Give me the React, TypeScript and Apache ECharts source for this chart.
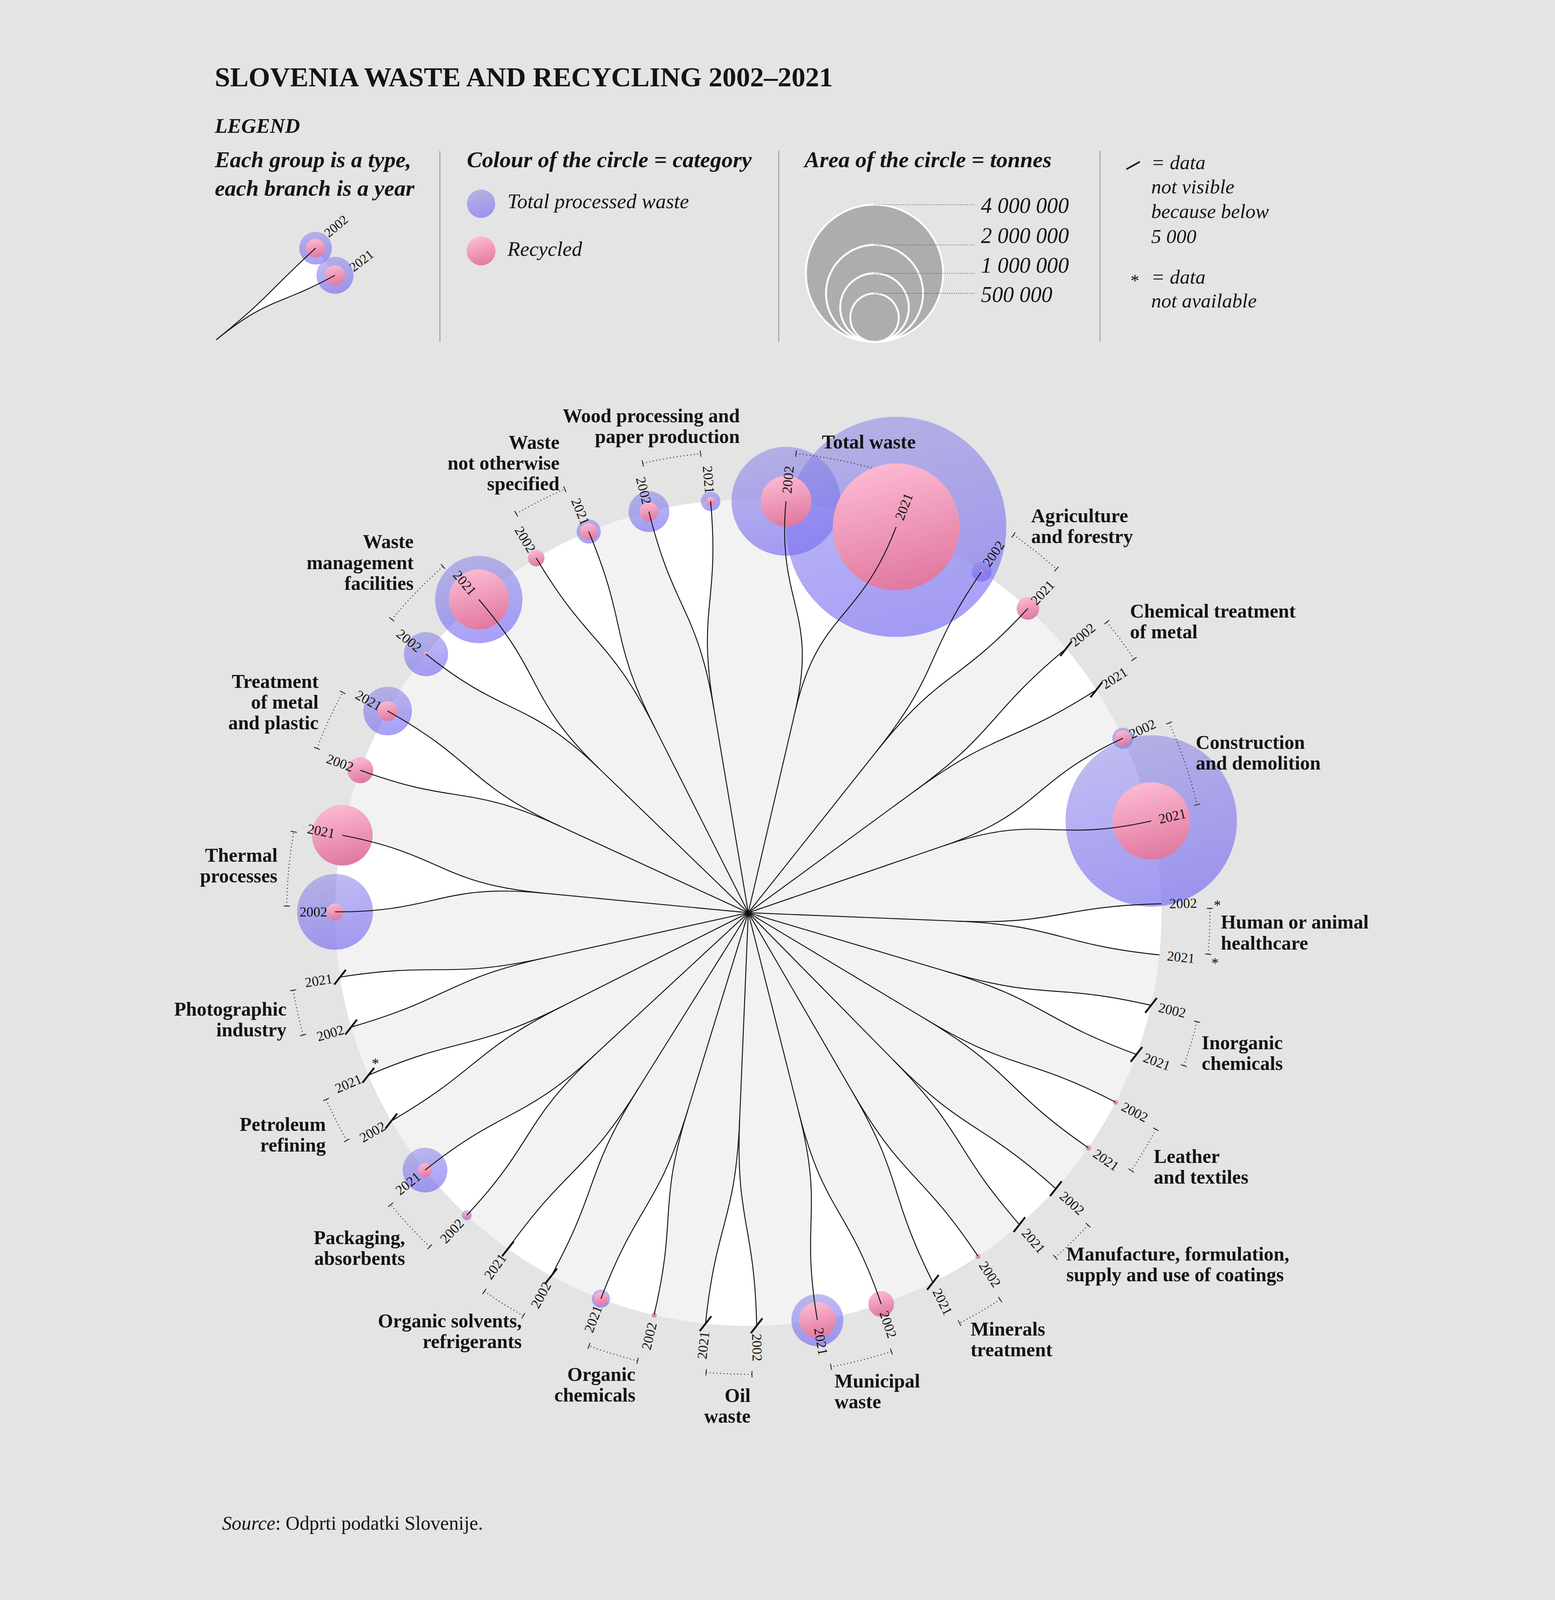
import React, { useEffect, useRef } from 'react';
import * as echarts from 'echarts';

// ---------------- DATA ----------------
const GROUP_LABELS: string[][] = [
  ['Total waste'],
  ['Agriculture', 'and forestry'],
  ['Chemical treatment', 'of metal'],
  ['Construction', 'and demolition'],
  ['Human or animal', 'healthcare'],
  ['Inorganic', 'chemicals'],
  ['Leather', 'and textiles'],
  ['Manufacture, formulation,', 'supply and use of coatings'],
  ['Minerals', 'treatment'],
  ['Municipal', 'waste'],
  ['Oil', 'waste'],
  ['Organic', 'chemicals'],
  ['Organic solvents,', 'refrigerants'],
  ['Packaging,', 'absorbents'],
  ['Petroleum', 'refining'],
  ['Photographic', 'industry'],
  ['Thermal', 'processes'],
  ['Treatment', 'of metal', 'and plastic'],
  ['Waste', 'management', 'facilities'],
  ['Waste', 'not otherwise', 'specified'],
  ['Wood processing and', 'paper production'],
];
const YEARS = ['2002', '2021'];
// tonnes; null = data not available; values below 5 000 are not drawn
const TOTAL_2002 = [2520000, 84000, 3000, 95000, null, 3000, 5200, 3000, 5500, 140000, 3000, 6000, 3000, 21000, 3000, 3000, 1220000, 142000, 414000, 58000, 354000];
const TOTAL_2021 = [10300000, 108000, 3000, 6240000, null, 3000, 6500, 3000, 3000, 574000, 3000, 70000, 3000, 425000, 3000, 3000, 780000, 503000, 1620000, 123000, 80500];
const RECYCLED_2002 = [550000, 2000, 1000, 51000, null, 1000, 4800, 1000, 5000, 138000, 1000, 5500, 1000, 11000, 1000, 1000, 60000, 139000, 4500, 56000, 77000];
const RECYCLED_2021 = [3420000, 103000, 1000, 1270000, null, 1000, 4500, 1000, 1000, 276000, 1000, 40000, 1000, 41000, null, 1000, 770000, 82000, 766000, 61000, 16400];
const SIZE_LEGEND_VALUES = [4000000, 2000000, 1000000, 500000];
const SIZE_LEGEND_LABELS = ['4 000 000', '2 000 000', '1 000 000', '500 000'];
const THRESHOLD = 5000;

// ---------------- LAYOUT ----------------
const W = 3980;
const H = 5096;
const CX = 1897;
const CY = 2907;
const R = 1316;
const REF_VALUE = 4000000;
const REF_RADIUS = 218.5;
const rScale = (v: number) => REF_RADIUS * Math.sqrt(Math.max(v, 0) / REF_VALUE);
const NODE_R = 0.5;
const MID_R = 0.75;
const LABEL_R = (R + 25) / R;
const BRACKET_R = (R + 154) / R;
const STAR_R = (R + 178) / R;
const GLABEL_R = 1506 / R;
const FONT = 'Liberation Serif';
const INK = '#141414';
const BG = '#e4e4e4';

type Leaf = { g: number; y: number; total: number | null; rec: number | null };
const LEAVES: Leaf[] = [];
GROUP_LABELS.forEach((_, g) => {
  LEAVES.push({ g, y: 0, total: TOTAL_2002[g], rec: RECYCLED_2002[g] });
  LEAVES.push({ g, y: 1, total: TOTAL_2021[g], rec: RECYCLED_2021[g] });
});
const visible = (l: Leaf) => l.total != null && l.total >= THRESHOLD;
const N = LEAVES.length;
const leafRadius = LEAVES.map((l) => (visible(l) ? rScale(Math.max(l.total as number, l.rec ?? 0)) : 0));
const BASE_GAP = 431;
const gaps = LEAVES.map((_, i) => BASE_GAP + leafRadius[i] + leafRadius[(i + 1) % N]);
const gapSum = gaps.reduce((s, v) => s + v, 0);
const ANG: number[] = [];
{
  let a = ((gaps[N - 1] / gapSum) * 360) / 2;
  for (let i = 0; i < N; i++) {
    ANG.push(a);
    a += (gaps[i] / gapSum) * 360;
  }
}
const GA = GROUP_LABELS.map((_, g) => (ANG[2 * g] + ANG[2 * g + 1]) / 2);

function cubic(p: number[][], t: number) {
  const u = 1 - t;
  const a = u * u * u, b = 3 * u * u * t, c = 3 * u * t * t, d = t * t * t;
  return [
    a * p[0][0] + b * p[1][0] + c * p[2][0] + d * p[3][0],
    a * p[0][1] + b * p[1][1] + c * p[2][1] + d * p[3][1],
  ];
}

const purpleFill = () =>
  new echarts.graphic.LinearGradient(0.35, 0, 0.6, 1, [
    { offset: 0, color: 'rgba(141,137,228,0.56)' },
    { offset: 1, color: 'rgba(98,84,246,0.56)' },
  ]);
const pinkFill = () =>
  new echarts.graphic.LinearGradient(0.35, 0, 0.6, 1, [
    { offset: 0, color: 'rgba(255,186,210,0.97)' },
    { offset: 1, color: 'rgba(226,118,156,0.97)' },
  ]);

let measureCtx: CanvasRenderingContext2D | null = null;
function textWidth(s: string, font: string) {
  if (!measureCtx) measureCtx = document.createElement('canvas').getContext('2d');
  if (!measureCtx) return s.length * 30;
  measureCtx.font = font;
  return measureCtx.measureText(s).width;
}

function txt(x: number, y: number, text: string, size: number, opts: any = {}) {
  return {
    type: 'text',
    x,
    y,
    rotation: opts.rotation || 0,
    silent: true,
    style: {
      text,
      fill: opts.fill || INK,
      fontSize: size,
      fontFamily: FONT,
      fontWeight: opts.weight || 'normal',
      fontStyle: opts.style || 'normal',
      align: opts.align || 'left',
      textAlign: opts.align || 'left',
      verticalAlign: opts.valign || 'middle',
      textVerticalAlign: opts.valign || 'middle',
      lineHeight: opts.lineHeight,
      rich: opts.rich,
    },
  };
}

function buildLegend() {
  const els: any[] = [];
  els.push(txt(198, 245, 'SLOVENIA WASTE AND RECYCLING 2002–2021', 88, { weight: 'bold' }));
  els.push(txt(198, 400, 'LEGEND', 66, { weight: 'bold', style: 'italic' }));
  [915, 1994, 3017].forEach((x) =>
    els.push({ type: 'line', silent: true, shape: { x1: x, y1: 481, x2: x, y2: 1089 }, style: { stroke: '#7a7a7a', lineWidth: 2 } })
  );
  els.push(txt(198, 508, 'Each group is a type,', 72, { weight: 'bold', style: 'italic' }));
  els.push(txt(198, 599, 'each branch is a year', 72, { weight: 'bold', style: 'italic' }));
  const O = [203, 1082];
  const dir = (a: number) => [Math.sin((a * Math.PI) / 180), -Math.cos((a * Math.PI) / 180)];
  const at = (r: number, a: number) => [O[0] + r * dir(a)[0], O[1] + r * dir(a)[1]];
  const la = [47.3, 61.5];
  const lag = 51;
  const curves = la.map((a) => [O, at(215, lag), at(215, a), at(430, a)]);
  const poly: number[][] = [];
  for (let k = 0; k <= 40; k++) poly.push(cubic(curves[0], k / 40));
  for (let k = 40; k >= 0; k--) poly.push(cubic(curves[1], k / 40));
  els.push({ type: 'polygon', silent: true, shape: { points: poly }, style: { fill: '#ffffff' } });
  const legendSizes = [
    [52, 30],
    [59, 32],
  ];
  la.forEach((a, i) => {
    const p = at(430, a);
    els.push({ type: 'circle', silent: true, shape: { cx: p[0], cy: p[1], r: legendSizes[i][0] }, style: { fill: purpleFill() } });
    els.push({ type: 'circle', silent: true, shape: { cx: p[0], cy: p[1], r: legendSizes[i][1] }, style: { fill: pinkFill() } });
  });
  curves.forEach((c) =>
    els.push({
      type: 'bezierCurve',
      silent: true,
      shape: { x1: c[0][0], y1: c[0][1], cpx1: c[1][0], cpy1: c[1][1], cpx2: c[2][0], cpy2: c[2][1], x2: c[3][0], y2: c[3][1] },
      style: { stroke: INK, lineWidth: 3, fill: null },
    })
  );
  els.push(txt(552, 747, '2002', 42, { rotation: (40 * Math.PI) / 180 }));
  els.push(txt(632, 856, '2021', 42, { rotation: (38 * Math.PI) / 180 }));

  els.push(txt(1001, 508, 'Colour of the circle = category', 72, { weight: 'bold', style: 'italic' }));
  els.push({ type: 'circle', silent: true, shape: { cx: 1046, cy: 649, r: 45 }, style: { fill: purpleFill() } });
  els.push({ type: 'circle', silent: true, shape: { cx: 1046, cy: 799, r: 46 }, style: { fill: pinkFill() } });
  els.push(txt(1130, 641, 'Total processed waste', 66, { style: 'italic' }));
  els.push(txt(1130, 792, 'Recycled', 66, { style: 'italic' }));

  els.push(txt(2076, 508, 'Area of the circle = tonnes', 72, { weight: 'bold', style: 'italic' }));
  const scx = 2299, sbot = 1089;
  SIZE_LEGEND_VALUES.forEach((v) => {
    const r = rScale(v);
    els.push({ type: 'circle', silent: true, shape: { cx: scx, cy: sbot - r, r }, style: { fill: '#adadad', stroke: '#ffffff', lineWidth: 6 } });
  });
  const labelY = [654, 750, 845, 938];
  SIZE_LEGEND_VALUES.forEach((v, i) => {
    const top = sbot - 2 * rScale(v);
    els.push({
      type: 'line',
      silent: true,
      shape: { x1: scx, y1: top, x2: 2621, y2: top },
      style: { stroke: '#555', lineWidth: 2, lineDash: [3, 4] },
    });
    els.push(txt(2638, labelY[i], SIZE_LEGEND_LABELS[i], 70, { style: 'italic' }));
  });

  els.push({ type: 'line', silent: true, shape: { x1: 3101, y1: 539, x2: 3144, y2: 515 }, style: { stroke: INK, lineWidth: 5 } });
  ['= data', 'not visible', 'because below', '5 000'].forEach((s, i) => els.push(txt(3180, [517, 594, 673, 752][i], s, 64, { style: 'italic' })));
  els.push(txt(3128, 893, '*', 56, { align: 'center' }));
  els.push(txt(3180, 881, '= data', 64, { style: 'italic' }));
  els.push(txt(3180, 957, 'not available', 64, { style: 'italic' }));

  els.push(
    txt(221, 4852, '{i|Source}: Odprti podatki Slovenije.', 62, {
      rich: { i: { fontStyle: 'italic', fontSize: 62, fontFamily: FONT, fill: INK } },
    })
  );
  return els;
}

function buildOption() {
  const leafData = LEAVES.map((_, i) => [1, ANG[i], i]);
  const groupData = GROUP_LABELS.map((_, g) => [NODE_R, GA[g], g]);
  const base = { type: 'custom', coordinateSystem: 'polar', polarIndex: 0, silent: true, encode: { radius: 0, angle: 1 } };

  const linkPts = (api: any, g: number, al: number) => [
    api.coord([NODE_R, GA[g]]),
    api.coord([MID_R, GA[g]]),
    api.coord([MID_R, al]),
    api.coord([1, al]),
  ];

  const series: any[] = [
    {
      ...base,
      name: 'disc',
      z: 1,
      data: [[0, 0]],
      renderItem: (_p: any, api: any) => {
        const o = api.coord([0, 0]);
        const e = api.coord([1, 0]);
        return { type: 'circle', shape: { cx: o[0], cy: o[1], r: Math.hypot(e[0] - o[0], e[1] - o[1]) }, style: { fill: '#f2f2f2' } };
      },
    },
    {
      ...base,
      name: 'wedges',
      z: 2,
      data: groupData,
      renderItem: (params: any, api: any) => {
        const g = params.dataIndex;
        const a1 = ANG[2 * g], a2 = ANG[2 * g + 1];
        const b1 = linkPts(api, g, a1), b2 = linkPts(api, g, a2);
        const pts: number[][] = [];
        for (let k = 0; k <= 48; k++) pts.push(cubic(b1, k / 48));
        for (let k = 1; k < 24; k++) pts.push(api.coord([1, a1 + ((a2 - a1) * k) / 24]));
        for (let k = 48; k >= 0; k--) pts.push(cubic(b2, k / 48));
        return { type: 'polygon', shape: { points: pts }, style: { fill: '#ffffff' } };
      },
    },
    {
      ...base,
      name: 'Total processed waste',
      z: 3,
      data: leafData,
      renderItem: (params: any, api: any) => {
        const l = LEAVES[params.dataIndex];
        if (!visible(l)) return null;
        const p = api.coord([api.value(0), api.value(1)]);
        return { type: 'circle', shape: { cx: p[0], cy: p[1], r: rScale(l.total as number) }, style: { fill: purpleFill() } };
      },
    },
    {
      ...base,
      name: 'brackets',
      z: 4,
      data: groupData,
      renderItem: (params: any, api: any) => {
        const g = params.dataIndex;
        const a1 = ANG[2 * g] + 0.7, a2 = ANG[2 * g + 1] - 0.7;
        const pts: number[][] = [];
        for (let k = 0; k <= 30; k++) pts.push(api.coord([BRACKET_R, a1 + ((a2 - a1) * k) / 30]));
        const t = 10 / R;
        const tick = (a: number) => {
          const p = api.coord([BRACKET_R - t, a]);
          const q = api.coord([BRACKET_R + t, a]);
          return { type: 'line', shape: { x1: p[0], y1: p[1], x2: q[0], y2: q[1] }, style: { stroke: '#333', lineWidth: 3 } };
        };
        return {
          type: 'group',
          children: [
            { type: 'polyline', shape: { points: pts }, style: { stroke: '#333', lineWidth: 3, lineDash: [3, 8], fill: null } },
            tick(a1),
            tick(a2),
          ],
        };
      },
    },
    {
      ...base,
      name: 'Recycled',
      z: 5,
      data: leafData,
      renderItem: (params: any, api: any) => {
        const l = LEAVES[params.dataIndex];
        if (!visible(l) || l.rec == null) return null;
        const p = api.coord([api.value(0), api.value(1)]);
        return { type: 'circle', shape: { cx: p[0], cy: p[1], r: Math.max(rScale(l.rec), 3) }, style: { fill: pinkFill() } };
      },
    },
    {
      ...base,
      name: 'branches',
      z: 6,
      data: groupData,
      renderItem: (params: any, api: any) => {
        const g = params.dataIndex;
        const o = api.coord([0, GA[g]]);
        const nd = api.coord([NODE_R, GA[g]]);
        const children: any[] = [
          { type: 'line', shape: { x1: o[0], y1: o[1], x2: nd[0], y2: nd[1] }, style: { stroke: INK, lineWidth: 3 } },
        ];
        [ANG[2 * g], ANG[2 * g + 1]].forEach((al) => {
          const b = linkPts(api, g, al);
          children.push({
            type: 'bezierCurve',
            shape: { x1: b[0][0], y1: b[0][1], cpx1: b[1][0], cpy1: b[1][1], cpx2: b[2][0], cpy2: b[2][1], x2: b[3][0], y2: b[3][1] },
            style: { stroke: INK, lineWidth: 3, fill: null },
          });
        });
        return { type: 'group', children };
      },
    },
    {
      ...base,
      name: 'years',
      z: 7,
      data: leafData,
      renderItem: (params: any, api: any) => {
        const i = params.dataIndex;
        const l = LEAVES[i];
        const a = api.value(1);
        const right = a < 180;
        const p = api.coord([LABEL_R, a]);
        const children: any[] = [
          txt(p[0], p[1], YEARS[l.y], 44, {
            rotation: (((right ? 90 : 270) - a) * Math.PI) / 180,
            align: right ? 'left' : 'right',
          }),
        ];
        const e = api.coord([1, a]);
        if (l.total != null && l.total < THRESHOLD) {
          const ang = (-52 * Math.PI) / 180;
          const dx = 30 * Math.cos(ang), dy = 30 * Math.sin(ang);
          children.push({ type: 'line', shape: { x1: e[0] - dx, y1: e[1] - dy, x2: e[0] + dx, y2: e[1] + dy }, style: { stroke: INK, lineWidth: 6 } });
          if (l.rec == null) children.push(txt(e[0] + dx + 4, e[1] + dy - 14, '*', 46, { align: 'center' }));
        }
        if (l.total == null) {
          const s = api.coord([STAR_R, a]);
          children.push(txt(s[0], s[1] + 8, '*', 46, { align: 'center' }));
        }
        return { type: 'group', children };
      },
    },
    {
      ...base,
      name: 'groups',
      z: 8,
      data: groupData,
      renderItem: (params: any, api: any) => {
        const g = params.dataIndex;
        const a = GA[g];
        const p = api.coord([GLABEL_R, a]);
        const lines = GROUP_LABELS[g];
        const font = `bold 62px "${FONT}"`;
        const w = Math.max(...lines.map((s) => textWidth(s, font)));
        const lh = 66;
        const h = lines.length * lh;
        const s = Math.sin((a * Math.PI) / 180);
        const c = Math.cos((a * Math.PI) / 180);
        const sx = Math.max(-1, Math.min(1, s * 1.25));
        const left = p[0] - (w * (1 - sx)) / 2;
        const top = p[1] - (h * (1 + c)) / 2;
        const alignLeft = s >= 0;
        return txt(alignLeft ? left : left + w, top, lines.join('\n'), 62, {
          weight: 'bold',
          align: alignLeft ? 'left' : 'right',
          valign: 'top',
          lineHeight: lh,
        });
      },
    },
  ];

  return {
    backgroundColor: BG,
    animation: false,
    polar: { center: [CX, CY], radius: R },
    angleAxis: { type: 'value', min: 0, max: 360, startAngle: 90, clockwise: true, show: false },
    radiusAxis: { type: 'value', min: 0, max: 1, show: false },
    tooltip: { show: false },
    graphic: { elements: buildLegend() },
    series,
  };
}

export default function App() {
  const ref = useRef<HTMLDivElement>(null);
  useEffect(() => {
    document.body.style.margin = '0';
    document.body.style.background = BG;
    document.documentElement.style.background = BG;
    const el = ref.current;
    if (!el) return;
    // the browser window may be shorter than the chart: fit the whole chart in view
    const vw = window.innerWidth || W;
    const vh = window.innerHeight || H;
    const s = Math.min(1, vw / W, vh / H);
    const ox = Math.max(0, (vw - W * s) / 2);
    el.style.transformOrigin = '0 0';
    el.style.transform = `translate(${ox}px, 0px) scale(${s})`;
    const chart = echarts.init(el, null, { renderer: 'svg', width: W, height: H });
    chart.setOption(buildOption() as any);
    return () => chart.dispose();
  }, []);
  return (
    <div style={{ width: '100vw', height: '100vh', overflow: 'hidden', background: BG }}>
      <div ref={ref} style={{ width: W, height: H }} />
    </div>
  );
}
